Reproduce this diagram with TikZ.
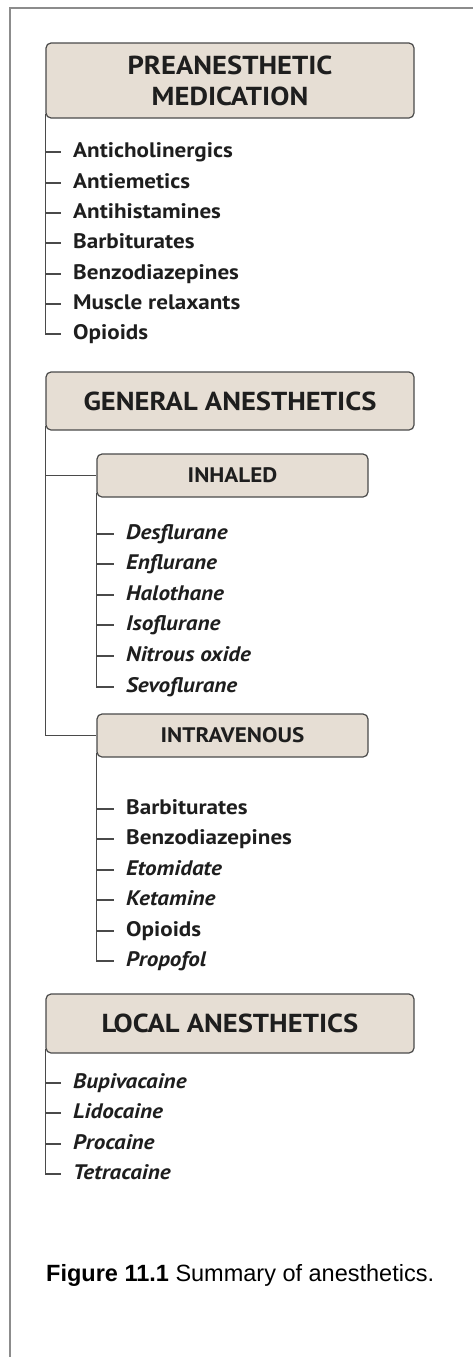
\documentclass[tikz,border=0pt]{standalone}
\usepackage{fontspec}
\setmainfont[FakeStretch=1.1]{PT Sans}
\newfontfamily\capfont{Liberation Sans}
\usetikzlibrary{positioning}
\definecolor{anbeige}{HTML}{E6DED4}
\definecolor{anink}{HTML}{1E1E1E}
\definecolor{anedge}{HTML}{4A4A4A}
\definecolor{anframe}{HTML}{8C8C8C}
\tikzset{
  headBox/.style={draw=anedge, fill=anbeige, line width=1.2pt, rounded corners=5pt, align=center, text=anink, inner sep=0pt, minimum width=368pt, font=\fontsize{26}{31}\selectfont\bfseries},
  subBox/.style={draw=anedge, fill=anbeige, line width=1.2pt, rounded corners=5pt, align=center, text=anink, inner sep=0pt, minimum width=271pt, minimum height=43pt, font=\fontsize{21}{25}\selectfont\bfseries},
  drugItem/.style={anchor=west, inner xsep=12pt, inner ysep=0pt, text height=15pt, text depth=4pt, text=anink, font=\fontsize{21}{24}\selectfont\bfseries},
  treeLine/.style={draw=anedge, line width=1.2pt},
  frameLine/.style={draw=anframe, line width=2pt}
}

\begin{document}
\begin{tikzpicture}[x=1pt,y=-1pt]
  \useasboundingbox (0,0) rectangle (473,1357);
  \draw[frameLine] (10,1357) -- (10,8) -- (473,8);

  % headings
  \node[headBox, minimum height=75pt] (pre) at (230,80.5) {PREANESTHETIC\\MEDICATION};
  \node[headBox, minimum height=58pt] (gen) at (230,401) {GENERAL ANESTHETICS};
  \node[subBox] (inh) at (232.5,475.5) {INHALED};
  \node[subBox] (iv) at (232.5,735.5) {INTRAVENOUS};
  \node[headBox, minimum height=59pt] (loc) at (230,1023.5) {LOCAL ANESTHETICS};

  % preanesthetic medication
  \foreach \name/\y/\drug in {p1/152/Anticholinergics, p2/183/Antiemetics, p3/213/Antihistamines, p4/243/Barbiturates, p5/274/Benzodiazepines, p6/304/Muscle relaxants, p7/334/Opioids} {
    \node[drugItem] (\name) at (61,\y) {\drug};
    \draw[treeLine] (pre.south west |- \name.west) -- (\name.west);
  }
  \draw[treeLine] ([yshift=5pt]pre.south west) |- (p7.west);

  % general anesthetics
  \draw[treeLine] ([yshift=5pt]gen.south west) |- (iv.west);
  \draw[treeLine] (gen.south west |- inh.west) -- (inh.west);

  \foreach \name/\y/\drug in {h1/534/Desflurane, h2/564/Enflurane, h3/595/Halothane, h4/625/Isoflurane, h5/656/Nitrous oxide, h6/687/Sevoflurane} {
    \node[drugItem] (\name) at (114,\y) {\textit{\drug}};
    \draw[treeLine] (inh.south west |- \name.west) -- (\name.west);
  }
  \draw[treeLine] ([yshift=5pt]inh.south west) |- (h6.west);

  \foreach \name/\y/\drug in {v1/809/Barbiturates, v2/839/Benzodiazepines, v3/870/{\textit{Etomidate}}, v4/900/{\textit{Ketamine}}, v5/931/Opioids, v6/961/{\textit{Propofol}}} {
    \node[drugItem] (\name) at (114,\y) {\drug};
    \draw[treeLine] (iv.south west |- \name.west) -- (\name.west);
  }
  \draw[treeLine] ([yshift=5pt]iv.south west) |- (v6.west);

  % local anesthetics
  \foreach \name/\y/\drug in {l1/1083/Bupivacaine, l2/1113/Lidocaine, l3/1144/Procaine, l4/1174/Tetracaine} {
    \node[drugItem] (\name) at (61,\y) {\textit{\drug}};
    \draw[treeLine] (loc.south west |- \name.west) -- (\name.west);
  }
  \draw[treeLine] ([yshift=5pt]loc.south west) |- (l4.west);

  \node[anchor=base west, inner sep=0pt, text=black, font=\capfont\fontsize{23.5}{27}\selectfont] (cap) at (46,1281) {\textbf{Figure 11.1} Summary of anesthetics.};
\end{tikzpicture}
\end{document}
